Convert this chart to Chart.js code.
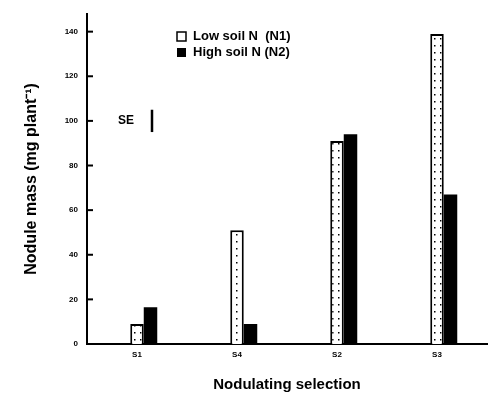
<!DOCTYPE html>
<html>
<head>
<meta charset="utf-8">
<script src="https://cdn.jsdelivr.net/npm/chart.js@4/dist/chart.umd.min.js"></script>
<style>
  html, body { margin: 0; padding: 0; background: #fff; }
  #wrap { width: 493px; height: 398px; }
</style>
</head>
<body>
<div id="wrap"><canvas id="nodule-chart"></canvas></div>
<script>
// data
const selections = ['S1', 'S4', 'S2', 'S3'];
const lowSoilN  = [9, 51, 91, 139];     // N1
const highSoilN = [16.5, 9, 94, 67];    // N2
const yTicks    = [0, 20, 40, 60, 80, 100, 120, 140];
const seValue   = 10;                   // length of the SE bar
const seCentre  = 100;

// sparse dotted fill for the low N bars
function dotPattern() {
  const c = document.createElement('canvas');
  c.width = 6; c.height = 7;
  const g = c.getContext('2d');
  g.fillStyle = '#fff';
  g.fillRect(0, 0, 6, 7);
  g.fillStyle = '#000';
  g.fillRect(2, 3, 1.5, 1.5);
  return g.createPattern(c, 'repeat');
}

const ink = '#000';
const font = 'Liberation Sans, Arial, sans-serif';

// legend, SE marker and inward y ticks drawn by hand
const extras = {
  id: 'extras',
  afterDraw(chart) {
    const { ctx, scales: { x, y } } = chart;
    ctx.save();
    ctx.fillStyle = ink;
    ctx.strokeStyle = ink;

    // inward tick marks
    ctx.lineWidth = 2;
    yTicks.forEach(v => {
      const py = y.getPixelForValue(v);
      ctx.beginPath();
      ctx.moveTo(x.left, py);
      ctx.lineTo(x.left + 6, py);
      ctx.stroke();
    });

    // legend (skip the blank spacer set)
    ctx.font = 'bold 13px ' + font;
    ctx.textBaseline = 'middle';
    const lx = 177, ly = [36, 52];
    chart.data.datasets.slice(1).forEach((ds, i) => {
      ctx.lineWidth = 1.5;
      if (i === 0) {
        ctx.fillStyle = '#fff';
        ctx.fillRect(lx, ly[i] - 4, 9, 9);
        ctx.strokeRect(lx, ly[i] - 4, 9, 9);
      } else {
        ctx.fillStyle = ink;
        ctx.fillRect(lx, ly[i] - 4, 9, 9);
      }
      ctx.fillStyle = ink;
      ctx.fillText(ds.label, lx + 16, ly[i]);
    });

    // SE bar
    ctx.font = 'bold 12px ' + font;
    ctx.fillText('SE', 118, y.getPixelForValue(seCentre));
    ctx.lineWidth = 2.5;
    ctx.beginPath();
    ctx.moveTo(152, y.getPixelForValue(seCentre + seValue / 2));
    ctx.lineTo(152, y.getPixelForValue(seCentre - seValue / 2));
    ctx.stroke();
    ctx.restore();
  }
};

new Chart(document.getElementById('nodule-chart'), {
  type: 'bar',
  data: {
    labels: selections,
    datasets: [
      // empty spacer so the pair sits a little right of each label, as in the figure
      { label: '', data: [] },
      {
        label: 'Low soil N  (N1)',
        data: lowSoilN,
        backgroundColor: dotPattern(),
        borderColor: ink, borderWidth: 2, borderSkipped: 'bottom'
      },
      {
        label: 'High soil N (N2)',
        data: highSoilN,
        backgroundColor: ink,
        borderColor: ink, borderWidth: 0
      }
    ]
  },
  options: {
    responsive: true, maintainAspectRatio: false, animation: false,
    layout: { padding: { top: 12, right: 6, left: 18, bottom: 0 } },
    datasets: { bar: { barPercentage: 1, categoryPercentage: 0.405 } },
    plugins: { legend: { display: false }, tooltip: { enabled: false } },
    scales: {
      x: {
        grid: { display: false, drawTicks: false },
        border: { color: ink, width: 2 },
        ticks: { color: ink, font: { family: font, size: 8, weight: 'bold' }, padding: 6 },
        title: { display: true, text: 'Nodulating selection', color: ink,
                 font: { family: font, size: 15, weight: 'bold' }, padding: { top: 12 } },
        afterFit: s => { s.height = 54; }
      },
      y: {
        min: 0, max: 148,
        afterBuildTicks: s => { s.ticks = yTicks.map(v => ({ value: v })); },
        grid: { display: false, drawTicks: false },
        border: { color: ink, width: 2 },
        ticks: { color: ink, font: { family: font, size: 8, weight: 'bold' }, padding: 9 },
        title: { display: true, text: 'Nodule mass (mg plant\u207B\u00B9)', color: ink,
                 font: { family: font, size: 16, weight: 'bold' }, padding: { bottom: 10 } },
        afterFit: s => { s.width = 69; }
      }
    }
  },
  plugins: [extras]
});
</script>
</body>
</html>
